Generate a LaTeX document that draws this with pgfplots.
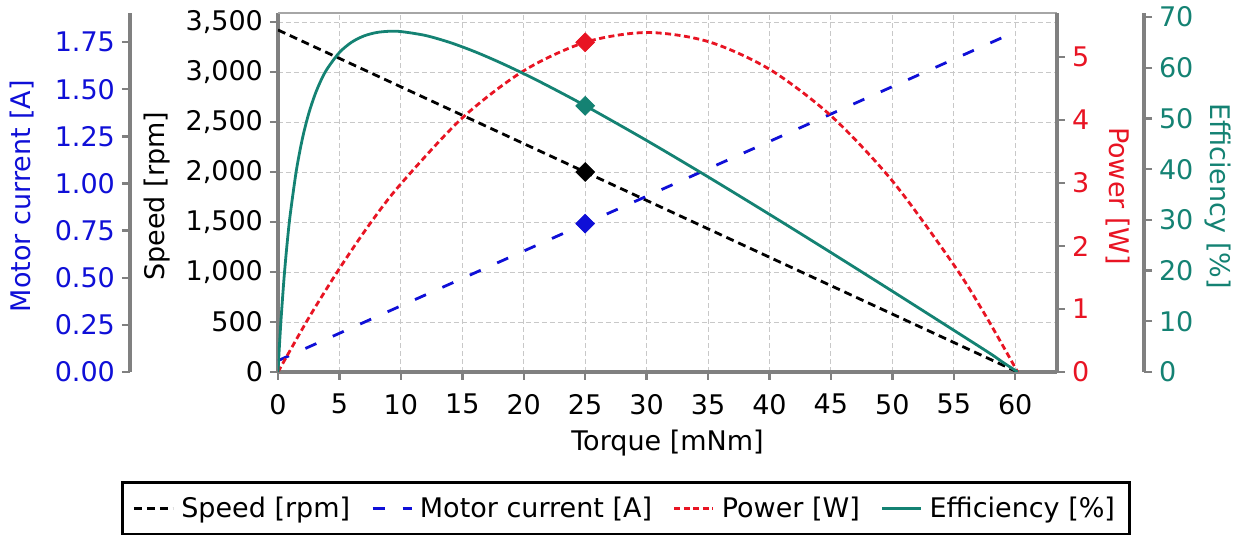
\documentclass[border=0pt]{standalone}
\usepackage{fontspec}
\setmainfont{DejaVu Sans}
\usepackage{pgfplots}
\pgfplotsset{compat=1.18}
\definecolor{cblue}{RGB}{15,15,215}
\definecolor{cred}{RGB}{232,20,35}
\definecolor{cteal}{RGB}{20,130,115}
\definecolor{axgray}{RGB}{128,128,128}
\definecolor{gridgray}{RGB}{200,200,200}
\pgfplotsset{
  base/.style={scale only axis, width=389.5pt, height=179.5pt, xmin=0, xmax=63.4,
    font=\fontsize{13.5}{16}\selectfont,
    /pgf/number format/assume math mode=true,
    tick align=outside, major tick length=4pt,
    tick style={draw=axgray, line width=1.2pt}},
}
\begin{document}
\begin{tikzpicture}
\useasboundingbox (-139pt,-81.5pt) rectangle (480.5pt,186pt);

% main axis: speed
\begin{axis}[base, ymin=0, ymax=3590,
  axis x line*=bottom, axis y line*=left,
  x axis line style={-, draw=axgray, line width=1.6pt},
  y axis line style={-, draw=axgray, line width=1.6pt},
  xtick={0,5,...,60}, ytick={0,500,...,3500},
  grid=major, grid style={draw=gridgray, dash pattern=on 2.5pt off 1.5pt, line width=0.45pt},
  y tick label style={/pgf/number format/1000 sep={,}},
  x tick label style={yshift=-3.5pt},
  xlabel={Torque [mNm]}, ylabel={Speed [rpm]},
  every axis x label/.style={at={(axis description cs:0.5,-0.198)}, anchor=center},
  every axis y label/.style={at={(axis description cs:-0.1553,0.49)}, anchor=center, rotate=90},
  legend columns=4,
  legend image code/.code={\draw[#1] (0pt,0pt) -- (19.5pt,0pt);},
  legend style={at={(axis description cs:-0.2015,-0.3036)}, anchor=north west,
    draw=black, line width=1.5pt, inner xsep=5pt, inner ysep=5pt,
    /tikz/every odd column/.append style={column sep=1.5pt},
    /tikz/every even column/.append style={column sep=8.5pt},
    font=\fontsize{13.5}{16}\selectfont},
]
\addlegendimage{black, line width=1.4pt, dash pattern=on 4pt off 2.5pt}
\addlegendentry{Speed [rpm]}
\addlegendimage{cblue, line width=1.4pt, dash pattern=on 6pt off 9pt}
\addlegendentry{Motor current [A]}
\addlegendimage{cred, line width=1.4pt, dash pattern=on 3pt off 1.75pt}
\addlegendentry{Power [W]}
\addlegendimage{cteal, line width=1.4pt}
\addlegendentry{Efficiency [\%]}
\addplot[black, line width=1.4pt, dash pattern=on 4pt off 2.5pt, forget plot] coordinates {(0,3420) (60.2,0)};
\addplot[only marks, mark=square*, mark size=3.3pt, mark options={rotate=45, fill=black, draw=black}, forget plot] coordinates {(25,2000)};
\end{axis}

% current plot
\begin{axis}[base, hide axis, ymin=0, ymax=1.904]
\addplot[cblue, line width=1.4pt, dash pattern=on 6pt off 9pt] coordinates {(0,0.06) (60.2,1.81)};
\addplot[only marks, mark=square*, mark size=3.3pt, mark options={rotate=45, fill=cblue, draw=cblue}] coordinates {(25,0.787)};
\end{axis}

% current scale
\begin{axis}[base, at={(-74pt,0)}, width=1pt, ymin=0, ymax=1.904,
  axis x line=none, axis y line*=left,
  y axis line style={-, draw=axgray, line width=1.6pt},
  ytick={0,0.25,0.5,0.75,1,1.25,1.5,1.75},
  y tick label style={text=cblue, /pgf/number format/.cd, fixed, fixed zerofill, precision=2},
  ylabel={Motor current [A]},
  every axis y label/.style={at={(axis description cs:0,0.49)}, xshift=-54pt, anchor=center, rotate=90, text=cblue},
]
\end{axis}

% power
\begin{axis}[base, ymin=0, ymax=5.7,
  axis x line*=top, axis y line*=right, xtick=\empty,
  x axis line style={-, draw=axgray!70, line width=0.6pt},
  y axis line style={-, draw=axgray, line width=1.6pt},
  ytick={0,1,2,3,4,5},
  y tick label style={text=cred},
  ylabel={Power [W]},
  every axis y label/.style={at={(axis description cs:1,0.49)}, xshift=30.5pt, anchor=center, rotate=-90, text=cred},
]
\addplot[cred, line width=1.4pt, dash pattern=on 3pt off 1.75pt, smooth] coordinates {
(0,0) (2.5,0.858) (5,1.642) (7.5,2.358) (10,2.987) (15,4.034) (20,4.783) (25,5.235)
(30,5.390) (35,5.247) (40,4.807) (45,4.069) (50,3.034) (55,1.701) (57.5,0.924) (60.2,0)};
\addplot[only marks, mark=square*, mark size=3.3pt, mark options={rotate=45, fill=cred, draw=cred}] coordinates {(25,5.235)};
\end{axis}

% efficiency plot
\begin{axis}[base, hide axis, ymin=0, ymax=70.8]
\addplot[cteal, line width=1.4pt, smooth] coordinates {
(0,0) (0.1,4.47) (0.25,10.43) (0.5,18.76) (0.75,25.53) (1,31.14) (1.5,39.83) (2,46.18)
(2.5,50.96) (3,54.64) (3.5,57.52) (4,59.78) (5,63.02) (6,65.05) (7,66.28) (8,66.94)
(9,67.19) (10,67.14) (12,66.37) (14,64.98) (16,63.19) (18,61.11) (20,58.83) (22,56.39)
(25,52.52) (30,45.66) (35,38.48) (40,31.09) (45,23.56) (50,15.93) (55,8.23) (58,3.58)
(59,1.9) (60.2,0)};
\addplot[only marks, mark=square*, mark size=3.3pt, mark options={rotate=45, fill=cteal, draw=cteal}] coordinates {(25,52.5)};
\end{axis}

% efficiency scale
\begin{axis}[base, at={(433pt,0)}, anchor=south east, width=1pt, ymin=0, ymax=70.8,
  axis x line=none, axis y line*=right,
  y axis line style={-, draw=axgray, line width=1.6pt},
  ytick={0,10,...,70},
  y tick label style={text=cteal},
  ylabel={Efficiency [\%]},
  every axis y label/.style={at={(axis description cs:1,0.49)}, xshift=37pt, anchor=center, rotate=-90, text=cteal},
]
\end{axis}
\end{tikzpicture}
\end{document}
